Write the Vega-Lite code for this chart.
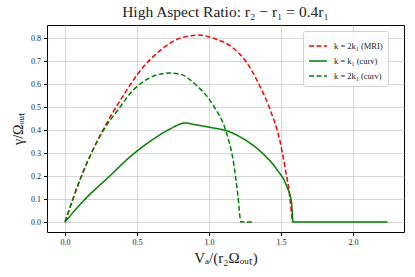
{
  "$schema": "https://vega.github.io/schema/vega-lite/v6.json",
  "width": 357,
  "height": 207,
  "autosize": "none",
  "padding": {"left": 47, "top": 25, "right": 11, "bottom": 45},
  "title": {"text": "High Aspect Ratio: r₂ − r₁ = 0.4r₁", "font": "Liberation Serif", "fontSize": 15.5, "fontWeight": "normal", "color": "#222", "offset": 5},
  "data": {"values": [
    {"s": "k = 2k₁ (MRI)", "x": 0, "y": 0},
    {"s": "k = 2k₁ (MRI)", "x": 0.055, "y": 0.1},
    {"s": "k = 2k₁ (MRI)", "x": 0.111, "y": 0.195},
    {"s": "k = 2k₁ (MRI)", "x": 0.187, "y": 0.305},
    {"s": "k = 2k₁ (MRI)", "x": 0.268, "y": 0.405},
    {"s": "k = 2k₁ (MRI)", "x": 0.34, "y": 0.485},
    {"s": "k = 2k₁ (MRI)", "x": 0.42, "y": 0.565},
    {"s": "k = 2k₁ (MRI)", "x": 0.5, "y": 0.64},
    {"s": "k = 2k₁ (MRI)", "x": 0.6, "y": 0.712},
    {"s": "k = 2k₁ (MRI)", "x": 0.7, "y": 0.765},
    {"s": "k = 2k₁ (MRI)", "x": 0.8, "y": 0.8},
    {"s": "k = 2k₁ (MRI)", "x": 0.93, "y": 0.813},
    {"s": "k = 2k₁ (MRI)", "x": 1.05, "y": 0.795},
    {"s": "k = 2k₁ (MRI)", "x": 1.15, "y": 0.765},
    {"s": "k = 2k₁ (MRI)", "x": 1.26, "y": 0.695},
    {"s": "k = 2k₁ (MRI)", "x": 1.35, "y": 0.595},
    {"s": "k = 2k₁ (MRI)", "x": 1.43, "y": 0.48},
    {"s": "k = 2k₁ (MRI)", "x": 1.49, "y": 0.36},
    {"s": "k = 2k₁ (MRI)", "x": 1.53, "y": 0.23},
    {"s": "k = 2k₁ (MRI)", "x": 1.56, "y": 0.115},
    {"s": "k = 2k₁ (MRI)", "x": 1.578, "y": 0},
    {"s": "k = k₁ (curv)", "x": 0, "y": 0},
    {"s": "k = k₁ (curv)", "x": 0.07, "y": 0.052},
    {"s": "k = k₁ (curv)", "x": 0.14, "y": 0.1},
    {"s": "k = k₁ (curv)", "x": 0.31, "y": 0.2},
    {"s": "k = k₁ (curv)", "x": 0.45, "y": 0.283},
    {"s": "k = k₁ (curv)", "x": 0.6, "y": 0.355},
    {"s": "k = k₁ (curv)", "x": 0.73, "y": 0.405},
    {"s": "k = k₁ (curv)", "x": 0.834, "y": 0.431},
    {"s": "k = k₁ (curv)", "x": 0.9, "y": 0.424},
    {"s": "k = k₁ (curv)", "x": 1.007, "y": 0.412},
    {"s": "k = k₁ (curv)", "x": 1.122, "y": 0.397},
    {"s": "k = k₁ (curv)", "x": 1.26, "y": 0.354},
    {"s": "k = k₁ (curv)", "x": 1.377, "y": 0.296},
    {"s": "k = k₁ (curv)", "x": 1.47, "y": 0.23},
    {"s": "k = k₁ (curv)", "x": 1.539, "y": 0.157},
    {"s": "k = k₁ (curv)", "x": 1.573, "y": 0.085},
    {"s": "k = k₁ (curv)", "x": 1.584, "y": 0},
    {"s": "k = k₁ (curv)", "x": 2.24, "y": 0},
    {"s": "k = 2k₁ (curv)", "x": 0, "y": 0},
    {"s": "k = 2k₁ (curv)", "x": 0.055, "y": 0.1},
    {"s": "k = 2k₁ (curv)", "x": 0.111, "y": 0.195},
    {"s": "k = 2k₁ (curv)", "x": 0.187, "y": 0.305},
    {"s": "k = 2k₁ (curv)", "x": 0.268, "y": 0.4},
    {"s": "k = 2k₁ (curv)", "x": 0.37, "y": 0.49},
    {"s": "k = 2k₁ (curv)", "x": 0.475, "y": 0.575},
    {"s": "k = 2k₁ (curv)", "x": 0.59, "y": 0.628},
    {"s": "k = 2k₁ (curv)", "x": 0.72, "y": 0.648},
    {"s": "k = 2k₁ (curv)", "x": 0.8, "y": 0.643},
    {"s": "k = 2k₁ (curv)", "x": 0.91, "y": 0.596},
    {"s": "k = 2k₁ (curv)", "x": 1.03, "y": 0.507},
    {"s": "k = 2k₁ (curv)", "x": 1.12, "y": 0.39},
    {"s": "k = 2k₁ (curv)", "x": 1.17, "y": 0.26},
    {"s": "k = 2k₁ (curv)", "x": 1.2, "y": 0.12},
    {"s": "k = 2k₁ (curv)", "x": 1.222, "y": 0},
    {"s": "k = 2k₁ (curv)", "x": 1.307, "y": 0}
  ]},
  "mark": {"type": "line", "strokeWidth": 1.5, "interpolate": "monotone", "clip": true},
  "encoding": {
    "x": {"field": "x", "type": "quantitative",
      "scale": {"domain": [-0.125, 2.354], "nice": false, "zero": false},
      "axis": {"values": [0, 0.5, 1, 1.5, 2], "format": ".1f", "title": "Vₐ/(r₂Ωₒᵤₜ)", "titleFontSize": 15, "titlePadding": 4}},
    "y": {"field": "y", "type": "quantitative",
      "scale": {"domain": [-0.043, 0.857], "nice": false, "zero": false},
      "axis": {"values": [0, 0.1, 0.2, 0.3, 0.4, 0.5, 0.6, 0.7, 0.8], "format": ".1f", "title": "γ/Ωₒᵤₜ", "titleFontSize": 14, "titlePadding": 5}},
    "color": {"field": "s", "type": "nominal",
      "scale": {"domain": ["k = 2k₁ (MRI)", "k = k₁ (curv)", "k = 2k₁ (curv)"], "range": ["#ff0000", "#008000", "#008000"]},
      "legend": {"title": null, "orient": "none", "legendX": 256, "legendY": 6}},
    "strokeDash": {"field": "s", "type": "nominal",
      "scale": {"domain": ["k = 2k₁ (MRI)", "k = k₁ (curv)", "k = 2k₁ (curv)"], "range": [[5, 2.5], [1, 0], [5, 2.5]]},
      "legend": null}
  },
  "config": {
    "font": "Liberation Serif",
    "view": {"stroke": "#000", "strokeWidth": 1},
    "axis": {"domain": false, "grid": true, "gridColor": "#cccccc", "gridWidth": 0.8, "tickColor": "#000", "tickSize": 3.5, "labelFont": "Liberation Serif", "labelFontSize": 8, "labelColor": "#222", "titleFont": "Liberation Serif", "titleFontWeight": "normal", "titleColor": "#222", "labelPadding": 3},
    "legend": {"symbolType": "stroke", "symbolSize": 324, "symbolStrokeWidth": 1.5, "labelFont": "Liberation Serif", "labelFontSize": 8.5, "labelColor": "#222", "fillColor": "rgba(255,255,255,0.85)", "strokeColor": "#d0d0d0", "padding": 5, "cornerRadius": 2, "rowPadding": -5, "labelOffset": 6}
  }
}
